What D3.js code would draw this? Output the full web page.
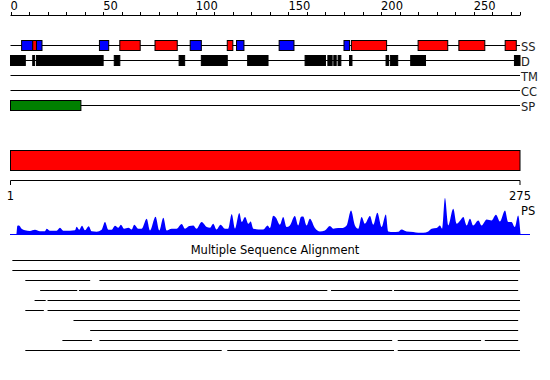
<!DOCTYPE html>
<html>
<head>
<meta charset="utf-8">
<script src="https://cdn.jsdelivr.net/npm/d3@7"></script>
<style>
  body { margin: 0; background: #fff; }
  svg { display: block; font-family: "DejaVu Sans", sans-serif; font-size: 11.5px; }
</style>
</head>
<body>
<svg id="chart"></svg>
<script>
// sequence length and axis ticks
const seqLength = 275;
const majorTicks = [0, 50, 100, 150, 200, 250];
const minorTicks = d3.range(0, 271, 10).concat([275]);

// secondary structure: [start, end]
const ssStrand = [[6, 12], [14, 17], [48, 53], [97, 103], [122, 126], [145, 153], [180, 183]];
const ssHelix = [[12, 14], [59, 70], [78, 90], [117, 120], [184, 203], [220, 236], [242, 256], [267, 273]];

// disordered regions
const disorder = [[0, 8], [12, 13], [14, 50], [56, 59], [91, 94], [103, 117], [128, 139],
  [159, 170], [171.3, 173.6], [174.5, 175.8], [176.8, 178.3], [183, 184.3],
  [202.7, 204], [205, 209], [216, 224], [272, 275]];
const transmembrane = [];
const coiledCoil = [];
const signalPeptide = [[0, 38]];

const trackNames = ["SS", "D", "TM", "CC", "SP"];

// PS profile: residue position / score
const psPos = [0, 3.1, 3.7, 4.6, 6, 7.8, 10.5, 13.2, 15.9, 18.6, 19.5, 21.3, 24.9, 26.7, 28.5, 32.1,
  34.8, 35.7, 37.1, 38.6, 40.2, 42.2, 43.8, 46.5, 49.2, 51, 52.8, 54.6, 56.4, 58.2, 59.6, 61.3,
  63.6, 65.4, 66.8, 69, 70.8, 73.5, 75.3, 78.3, 80.3, 82.5, 84.3, 87, 89.7, 92.4, 94.2, 96.5,
  98.7, 100.4, 103.2, 105.9, 107.7, 109.4, 111.2, 113.4, 115.8, 117.5, 119.4, 121.2, 123.5, 124.8,
  126.6, 128.4, 129.6, 131.1, 133.8, 136.4, 138.8, 140, 141.8, 143.3, 145.4, 147.2, 149, 150.8,
  153.5, 155.3, 156.8, 158, 159.8, 161.6, 164.3, 167, 169.7, 172.4, 174.2, 176.9, 178.7, 181.4,
  183.8, 185.9, 187.7, 189.5, 191.3, 194, 195.8, 198, 200.3, 202.6, 203.9, 206.6, 209.3, 211.1,
  213.8, 217.4, 220.1, 222.8, 225.5, 227.3, 230, 231.8, 233, 234.5, 236.3, 239, 240.8, 242.6,
  244.4, 246.2, 248, 249.7, 252.5, 254.3, 257, 259.7, 262, 264.2, 266.9, 268.6, 270.4, 272.2,
  274, 275.3];
const psVal = [0, 0, 9, 9.3, 6, 4.5, 3.8, 5, 3.5, 3.5, 6, 4, 4, 7, 4, 4,
  4.5, 8, 5, 9, 4.5, 8.5, 3.5, 3, 5, 12.7, 5, 5, 9, 7, 10, 6,
  7, 5.3, 10, 6, 6, 16, 4.3, 18, 4.3, 17, 4.3, 6, 6, 10.7, 6, 8.7,
  9.3, 6, 12.7, 7.7, 7, 11, 5.3, 10, 6, 6, 20.7, 6, 21.7, 12.7,
  17.7, 11, 13.3, 6, 5.3, 5.3, 9.3, 6.7, 19, 17, 10, 17.7, 7.7, 9.3,
  18.7, 9.3, 18, 18.3, 9.3, 16, 6.7, 3.3, 4.3, 8.7, 6, 6.7, 6.7, 9.3,
  24.3, 9.3, 6, 17.7, 11, 18.7, 10, 22, 7.7, 20.3, 3.3, 2.7, 3, 5.3,
  3.3, 2.7, 2, 2, 3.3, 6, 6.7, 9.3, 6, 36.7, 9.3, 26, 11, 14,
  17.7, 9.3, 16, 9.3, 14.3, 9.3, 15.3, 14.3, 20, 13.3, 24.3, 12.7, 12.7, 7.7,
  19.3, 0];

// multiple sequence alignment: one list of [start, end] per row
const msaRows = [
  [[1, 275]],
  [[1, 275]],
  [[8, 43], [48, 274]],
  [[16, 36], [37, 171], [173, 206], [207, 274]],
  [[13, 19], [20, 275]],
  [[8, 18], [20, 275]],
  [[34, 274]],
  [[43, 274]],
  [[28, 44], [48, 206], [209, 254], [256, 274]],
  [[8, 114], [117, 207], [209, 275]]
];

class ProteinView {
  constructor(svg, width = 550, height = 380) {
    this.svg = d3.select(svg);
    this.width = width;
    this.height = height;
  }

  initialize() {
    this.svg.attr("width", this.width).attr("height", this.height);
    this.x = d3.scaleLinear().domain([0, seqLength]).range([10.5, 520]);
    this.trackY = d3.scalePoint().domain(trackNames).range([45.5, 105.5]);
    this.psY = d3.scaleLinear().domain([0, 40]).range([234.7, 194.7]);
    this.msaY = d3.scaleLinear().domain([0, 9]).range([260.5, 350.5]);
  }

  boxes(g, data, y, h, fill) {
    g.selectAll(null)
      .data(data)
      .join("rect")
      .attr("x", d => this.x(d[0]))
      .attr("y", y - h / 2)
      .attr("width", d => this.x(d[1]) - this.x(d[0]))
      .attr("height", h)
      .attr("fill", fill)
      .attr("stroke", "#000")
      .attr("stroke-width", 1);
  }

  update() {
    const x = this.x;
    const [x0, x1] = x.range();

    // top ruler
    const ruler = this.svg.append("g");
    ruler.append("line")
      .attr("x1", x0).attr("x2", x1)
      .attr("y1", 15.5).attr("y2", 15.5)
      .attr("stroke", "#000");
    ruler.selectAll("line.tick")
      .data(minorTicks)
      .join("line")
      .attr("class", "tick")
      .attr("x1", d => Math.round(x(d)) + 0.5).attr("x2", d => Math.round(x(d)) + 0.5)
      .attr("y1", 12).attr("y2", 15.5)
      .attr("stroke", "#000");
    ruler.selectAll("text")
      .data(majorTicks)
      .join("text")
      .attr("x", d => x(d))
      .attr("y", 10)
      .text(d => d);

    // feature tracks
    const tracks = this.svg.append("g");
    trackNames.forEach(name => {
      const y = this.trackY(name);
      tracks.append("line")
        .attr("x1", x0).attr("x2", x1)
        .attr("y1", y).attr("y2", y)
        .attr("stroke", "#000");
      tracks.append("text")
        .attr("x", 521)
        .attr("y", y + 5)
        .attr("fill", "#222")
        .text(name);
    });
    this.boxes(tracks, ssStrand, this.trackY("SS"), 10, "#0000ff");
    this.boxes(tracks, ssHelix, this.trackY("SS"), 10, "#ff0000");
    this.boxes(tracks, disorder, this.trackY("D"), 10, "#000");
    this.boxes(tracks, transmembrane, this.trackY("TM"), 10, "#888");
    this.boxes(tracks, coiledCoil, this.trackY("CC"), 10, "#888");
    this.boxes(tracks, signalPeptide, this.trackY("SP"), 10, "#008000");

    // full-length domain bar
    this.boxes(this.svg.append("g"), [[0, seqLength]], 160.5, 20, "#ff0000");

    // 1..275 scale
    const span = this.svg.append("g");
    span.append("path")
      .attr("d", `M${x0},185V180.5H${x1}V185`)
      .attr("fill", "none")
      .attr("stroke", "#000");
    span.selectAll("text")
      .data([1, seqLength])
      .join("text")
      .attr("x", (d, i) => i === 0 ? x0 : x1)
      .attr("y", 200)
      .attr("text-anchor", "middle")
      .text(d => d);

    // PS profile
    const ps = this.svg.append("g");
    const area = d3.area()
      .x((d, i) => x(psPos[i]))
      .y0(this.psY(0))
      .y1(d => this.psY(d))
      .curve(d3.curveMonotoneX);
    ps.append("path")
      .datum(psVal)
      .attr("d", area)
      .attr("fill", "#0000ff");
    ps.append("line")
      .attr("x1", x0 - 0.5).attr("x2", x1 + 10)
      .attr("y1", 234.5).attr("y2", 234.5)
      .attr("stroke", "#0000ff");
    ps.append("text")
      .attr("x", 521)
      .attr("y", 215)
      .text("PS");

    // multiple sequence alignment
    const msa = this.svg.append("g");
    msa.append("text")
      .attr("x", this.width / 2)
      .attr("y", 254)
      .attr("text-anchor", "middle")
      .text("Multiple Sequence Alignment");
    msaRows.forEach((segs, i) => {
      msa.selectAll(null)
        .data(segs)
        .join("line")
        .attr("x1", d => x(d[0])).attr("x2", d => x(d[1]))
        .attr("y1", this.msaY(i)).attr("y2", this.msaY(i))
        .attr("stroke", "#000");
    });
  }
}

const view = new ProteinView("#chart");
view.initialize();
view.update();
</script>
</body>
</html>
